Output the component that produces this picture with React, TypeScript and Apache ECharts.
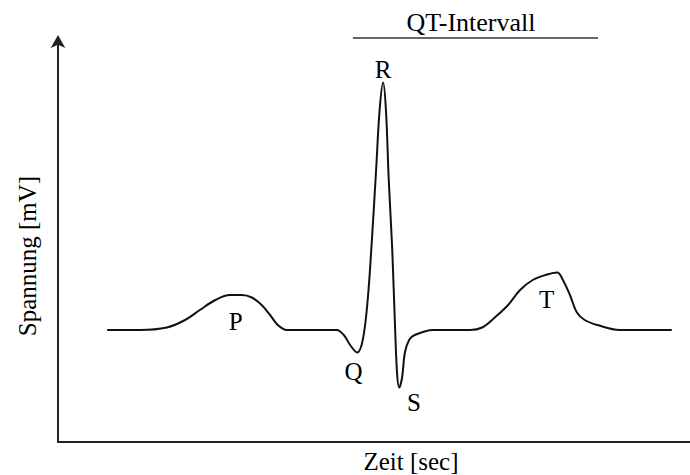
import React, { useEffect, useRef } from "react";
import * as echarts from "echarts";

// ECG waveform samples: time [ms], voltage [mV]
const timeMs = [70, 117, 155, 181, 202, 224, 245, 262, 276, 290, 302, 313, 326, 345, 397, 407, 416, 426, 434, 441, 447, 453, 458, 463, 467, 471, 476, 480, 483, 486, 490, 494, 500, 508, 534, 587, 604, 622, 641, 658, 676, 694, 711, 719, 729, 739, 750, 768, 800, 874];
const voltMv = [0, 0, 0.01, 0.04, 0.08, 0.12, 0.14, 0.14, 0.13, 0.1, 0.06, 0.02, 0, 0, 0, -0.02, -0.06, -0.09, -0.04, 0.12, 0.36, 0.64, 0.88, 0.99, 0.88, 0.6, 0.32, 0.01, -0.18, -0.23, -0.19, -0.09, -0.04, -0.02, 0, 0, 0.01, 0.05, 0.1, 0.16, 0.2, 0.22, 0.23, 0.2, 0.14, 0.07, 0.04, 0.02, 0, 0];

// Wave labels
const waveNames = ["P", "Q", "R", "S", "T"];
const waveLabelT = [253, 421, 463, 507, 696];
const waveLabelV = [0.036, -0.164, 1.044, -0.288, 0.124];

// QT interval annotation
const qtStartMs = 420;
const qtEndMs = 769;
const qtLabel = "QT-Intervall";

const xName = "Zeit [sec]";
const yName = "Spannung [mV]";

const X_MIN = 0;
const X_MAX = 900;
const Y_MIN = -0.448;
const Y_MAX = 1.168;

const FONT = "'Liberation Serif', 'Times New Roman', serif";
const INK = "#000000";

export default function App() {
  const ref = useRef<HTMLDivElement>(null);

  useEffect(() => {
    document.body.style.margin = "0";
    if (!ref.current) return;
    const chart = echarts.init(ref.current, undefined, { renderer: "svg" });

    const curve = timeMs.map((t, i) => [t, voltMv[i]]);
    const labels = waveNames.map((n, i) => ({ name: n, value: [waveLabelT[i], waveLabelV[i]] }));

    chart.setOption({
      animation: false,
      backgroundColor: "#ffffff",
      grid: { left: 58, right: 0, top: 38, bottom: 33 },
      xAxis: {
        type: "value",
        min: X_MIN,
        max: X_MAX,
        axisLine: { show: true, onZero: false, lineStyle: { color: "#222", width: 2 } },
        axisTick: { show: false },
        axisLabel: { show: false },
        splitLine: { show: false },
      },
      yAxis: {
        type: "value",
        min: Y_MIN,
        max: Y_MAX,
        axisLine: {
          show: true,
          onZero: false,
          symbol: ["none", "arrow"],
          symbolSize: [11, 13],
          symbolOffset: [0, 3],
          lineStyle: { color: "#222", width: 2 },
        },
        axisTick: { show: false },
        axisLabel: { show: false },
        splitLine: { show: false },
      },
      series: [
        {
          type: "line",
          data: curve,
          smooth: 0.35,
          showSymbol: false,
          symbol: "none",
          lineStyle: { color: "#111", width: 2 },
          z: 3,
        },
        {
          type: "scatter",
          data: labels,
          symbolSize: 0,
          itemStyle: { color: INK, opacity: 1 },
          label: {
            show: true,
            position: "inside",
            formatter: (p: any) => p.name,
            fontFamily: FONT,
            fontSize: 25,
            color: INK,
            opacity: 1,
            textBorderWidth: 0,
          },
          z: 4,
        },
      ],
    });

    const p1 = chart.convertToPixel({ gridIndex: 0 }, [qtStartMs, Y_MAX]) as number[];
    const p2 = chart.convertToPixel({ gridIndex: 0 }, [qtEndMs, Y_MAX]) as number[];
    const qtY = p1[1];

    chart.setOption({
      graphic: [
        {
          type: "line",
          shape: { x1: p1[0], y1: qtY, x2: p2[0], y2: qtY },
          style: { stroke: "#333", lineWidth: 1.5 },
        },
        {
          type: "text",
          x: 471,
          y: 22,
          style: { text: qtLabel, fontFamily: FONT, fontSize: 26, fill: INK, align: "center", verticalAlign: "middle" },
        },
        {
          type: "text",
          x: 411,
          y: 461,
          style: { text: xName, fontFamily: FONT, fontSize: 25, fill: INK, align: "center", verticalAlign: "middle" },
        },
        {
          type: "text",
          x: 27,
          y: 256,
          rotation: Math.PI / 2,
          style: { text: yName, fontFamily: FONT, fontSize: 25, fill: INK, align: "center", verticalAlign: "middle" },
        },
      ],
    });

    return () => chart.dispose();
  }, []);

  return <div ref={ref} style={{ width: 690, height: 475 }} />;
}
